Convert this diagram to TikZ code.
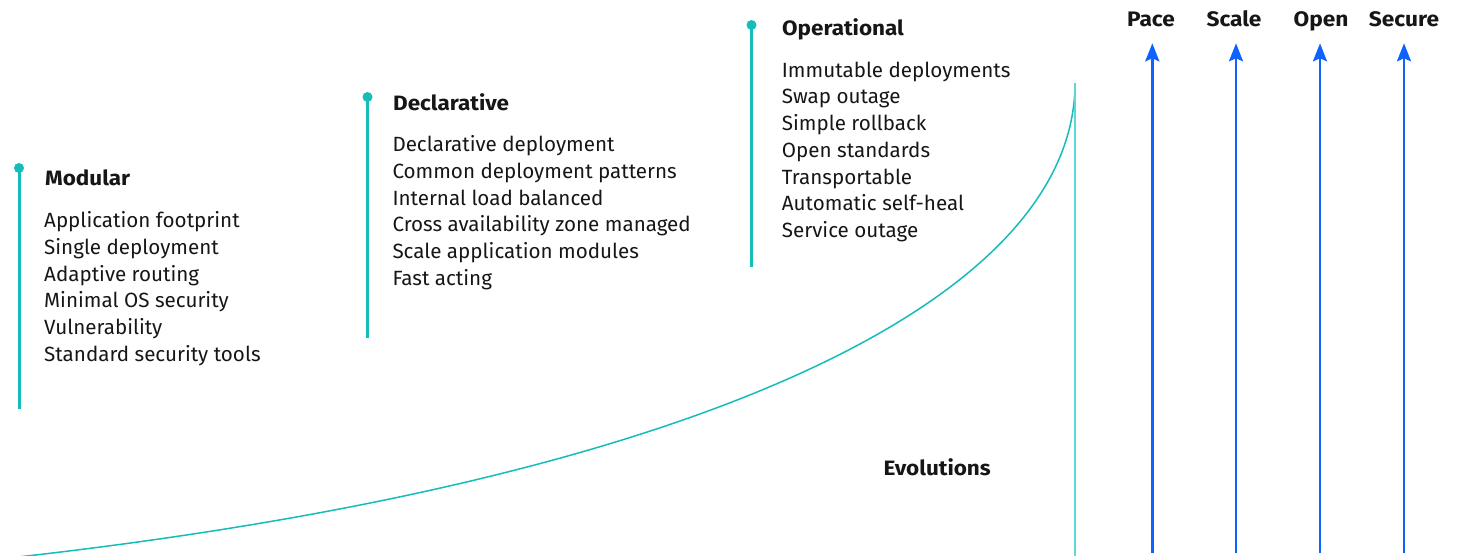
\documentclass[tikz,border=0pt]{standalone}
\usepackage{fontspec}
\setmainfont{Fira Sans}
\newfontfamily\headfont{Fira Sans}[FakeStretch=1.08]
\usetikzlibrary{arrows.meta}
\definecolor{ink}{HTML}{161616}
\definecolor{teal}{HTML}{14BDBA}
\definecolor{lightteal}{HTML}{5FD6D8}
\definecolor{ibmblue}{HTML}{0F62FE}
\tikzset{
  title/.style={anchor=base west, inner sep=0pt, text=ink, font=\headfont\fontsize{20.8}{24}\selectfont\bfseries},
  item/.style={anchor=base west, inner sep=0pt, text=ink, font=\fontsize{20.6}{24}\selectfont},
  axislabel/.style={anchor=base, inner sep=0pt, text=ink, font=\headfont\fontsize{21}{24}\selectfont\bfseries},
  marker/.style={circle, fill=teal, inner sep=0pt, minimum size=10pt},
  stem/.style={draw=teal, line width=3pt},
  growth/.style={draw=teal, line width=1.5pt},
  rise/.style={draw=ibmblue, line width=2.7pt, -{Stealth[length=18pt, width=14pt, inset=3pt]}},
}
\begin{document}
\begin{tikzpicture}[x=1pt, y=-1pt]
\useasboundingbox (0,0) rectangle (1460,556);

% growth curve and its vertical limit
\coordinate (cstart) at (18,557);
\coordinate (cend) at (1075,83);
\coordinate (vbot) at (1075,556);
\draw[growth] (cstart) .. controls (700,480) and (1075,300) .. (cend);
\draw[draw=lightteal, line width=1.5pt] (cend) -- (vbot);

% stage 1: Modular
\node[marker] (mdot) at (19,168) {};
\coordinate (mend) at (19,409);
\draw[stem] (mdot.center) -- (mend);
\node[title] (mtitle) at (45,185.5) {Modular};
\foreach \t [count=\i from 0] in {Application footprint, Single deployment, Adaptive routing, Minimal OS security, Vulnerability, Standard security tools}
  \node[item] (m\i) at (44,227.7+26.7*\i) {\t};

% stage 2: Declarative
\node[marker] (ddot) at (367.5,97) {};
\coordinate (dend) at (367.5,338);
\draw[stem] (ddot.center) -- (dend);
\node[title] (dtitle) at (393,110.7) {Declarative};
\foreach \t [count=\i from 0] in {Declarative deployment, Common deployment patterns, Internal load balanced, Cross availability zone managed, Scale application modules, Fast acting}
  \node[item] (d\i) at (392.3,151.7+26.7*\i) {\t};

% stage 3: Operational
\node[marker] (odot) at (751.5,25) {};
\coordinate (oend) at (751.5,267);
\draw[stem] (odot.center) -- (oend);
\node[title] (otitle) at (782,35.5) {Operational};
\foreach \t [count=\i from 0] in {Immutable deployments, Swap outage, Simple rollback, Open standards, Transportable, Automatic self-heal, Service outage}
  \node[item] (o\i) at (781.7,77.3+26.7*\i) {\t};

\node[title] (evo) at (883.3,475.7) {Evolutions};

% drivers
\foreach \n/\x/\lx in {Pace/1152.3/1151, Scale/1236/1234, Open/1320/1321, Secure/1404/1404} {
  \node[axislabel] (\n) at (\lx,26.7) {\n};
  \coordinate (\n-bot) at (\x,553);
  \coordinate (\n-top) at (\x,43.3);
  \draw[rise] (\n-bot) -- (\n-top);
}
\end{tikzpicture}
\end{document}
